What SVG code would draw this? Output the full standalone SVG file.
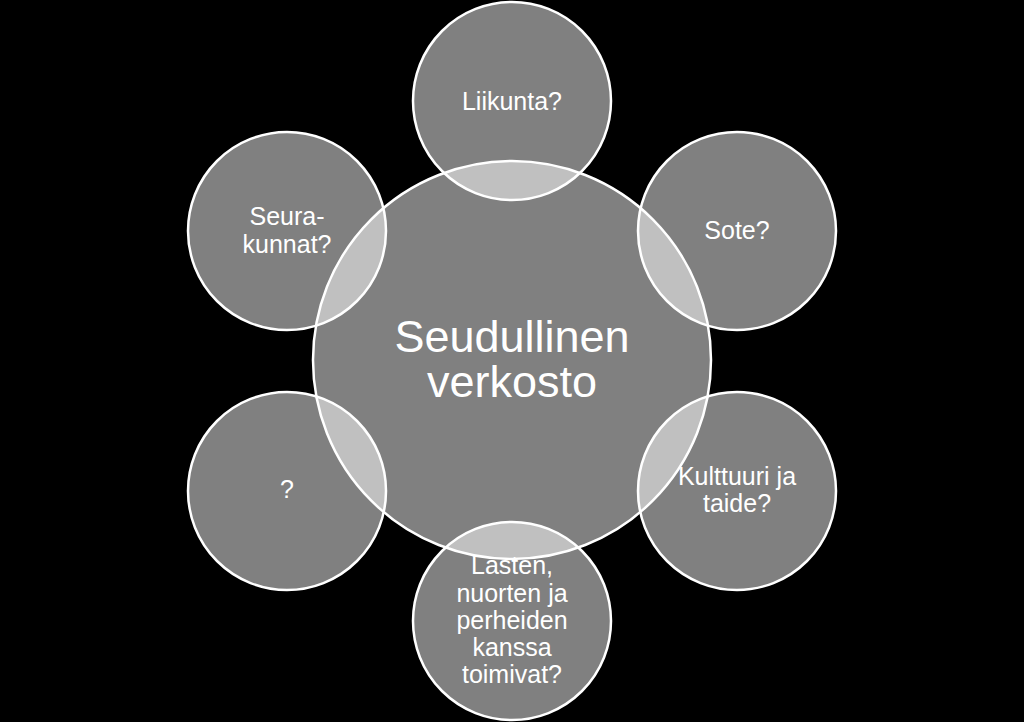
<svg xmlns="http://www.w3.org/2000/svg" width="1024" height="722" viewBox="0 0 1024 722">
<style>
.c{fill:#ffffff;fill-opacity:0.5;stroke:#ffffff;stroke-width:2.5}
.t{fill:#ffffff;font-family:"Liberation Sans",Arial,sans-serif;font-size:25px;text-anchor:middle}
.m{fill:#ffffff;font-family:"Liberation Sans",Arial,sans-serif;font-size:45px;text-anchor:middle}
</style>
<rect width="1024" height="722" fill="#000000"/>
<g id="center">
<circle class="c" cx="512" cy="360" r="199"/>
</g>
<g id="liikunta">
<circle class="c" cx="512" cy="101" r="99"/>
<text class="t" x="512" y="109.5">Liikunta?</text>
</g>
<g id="sote">
<circle class="c" cx="737" cy="231" r="99"/>
<text class="t" x="737" y="238.5">Sote?</text>
</g>
<g id="kulttuuri">
<circle class="c" cx="737" cy="491" r="99"/>
<text class="t" x="737" y="484.5">Kulttuuri ja</text>
<text class="t" x="737" y="512">taide?</text>
</g>
<g id="lasten">
<circle class="c" cx="512" cy="621" r="99"/>
<text class="t" x="512" y="574">Lasten,</text>
<text class="t" x="512" y="601.5">nuorten ja</text>
<text class="t" x="512" y="628.5">perheiden</text>
<text class="t" x="512" y="655.5">kanssa</text>
<text class="t" x="512" y="682.5">toimivat?</text>
</g>
<g id="kysymys">
<circle class="c" cx="287" cy="491" r="99"/>
<text class="t" x="287" y="498">?</text>
</g>
<g id="seurakunnat">
<circle class="c" cx="287" cy="231" r="99"/>
<text class="t" x="287" y="224.5">Seura-</text>
<text class="t" x="287" y="252.5">kunnat?</text>
</g>
<g id="center-label">
<text class="m" x="512" y="352">Seudullinen</text>
<text class="m" x="512" y="397">verkosto</text>
</g>
<g id="connectors"/>
</svg>
